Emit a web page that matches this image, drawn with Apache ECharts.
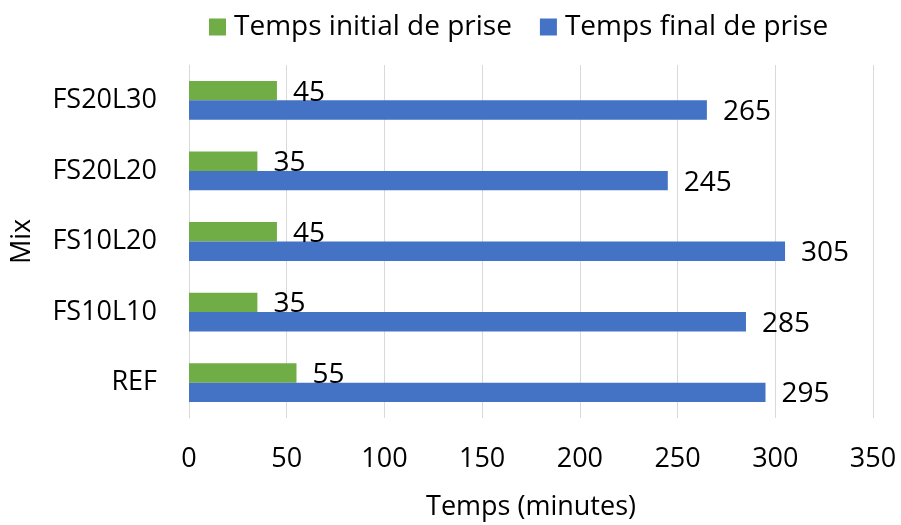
<!DOCTYPE html>
<html><head><meta charset="utf-8">
<script src="https://cdn.jsdelivr.net/npm/echarts@6/dist/echarts.min.js"></script>
<style>html,body{margin:0;padding:0;background:#fff}#c{width:901px;height:525px}</style>
</head><body><div id="c"></div>
<script>
const categories = ['REF', 'FS10L10', 'FS10L20', 'FS20L20', 'FS20L30'];
const initialTimes = [55, 35, 45, 35, 45];
const finalTimes = [295, 285, 305, 245, 265];
const seriesNames = ['Temps initial de prise', 'Temps final de prise'];
const xTicks = { min: 0, max: 350, interval: 50 };

const FONT = 'Open Sans';
const FS = 27;
const chart = echarts.init(document.getElementById('c'));
const lbl = { show: true, position: 'right', distance: 16, offset: [0, 2], color: '#000', fontSize: 28, fontFamily: FONT };
chart.setOption({
  animation: false,
  textStyle: { fontFamily: FONT },
  legend: {
    top: 8, left: 204, itemWidth: 17, itemHeight: 17, itemGap: 28,
    icon: 'rect',
    textStyle: { fontSize: 28, color: '#000', fontFamily: FONT, padding: [0, 0, 0, 3] },
    data: seriesNames
  },
  grid: { left: 189, right: 28, top: 65, bottom: 107, containLabel: false, outerBoundsMode: 'none' },
  xAxis: {
    type: 'value', min: xTicks.min, max: xTicks.max, interval: xTicks.interval,
    name: 'Temps (minutes)', nameLocation: 'middle', nameGap: 76,
    nameTextStyle: { fontSize: FS, color: '#000', fontFamily: FONT },
    axisLabel: { fontSize: FS, color: '#000', margin: 28, fontFamily: FONT },
    axisLine: { show: false }, axisTick: { show: false },
    splitLine: { lineStyle: { color: '#d9d9d9', width: 1 } }
  },
  yAxis: {
    type: 'category', data: categories,
    name: 'Mix', nameLocation: 'middle', nameGap: 153, nameRotate: 90,
    nameTextStyle: { fontSize: FS, color: '#000', fontFamily: FONT },
    axisLabel: { fontSize: FS, color: '#000', margin: 32, fontFamily: FONT },
    axisLine: { show: true, lineStyle: { color: '#d9d9d9' } }, axisTick: { show: false }
  },
  series: [
    { name: seriesNames[0], type: 'bar', data: initialTimes, barGap: '0%', barCategoryGap: '45%',
      itemStyle: { color: '#70AD47' }, label: lbl },
    { name: seriesNames[1], type: 'bar', data: finalTimes, barGap: '0%', barCategoryGap: '45%',
      itemStyle: { color: '#4472C4' }, label: lbl }
  ]
});
</script></body></html>
